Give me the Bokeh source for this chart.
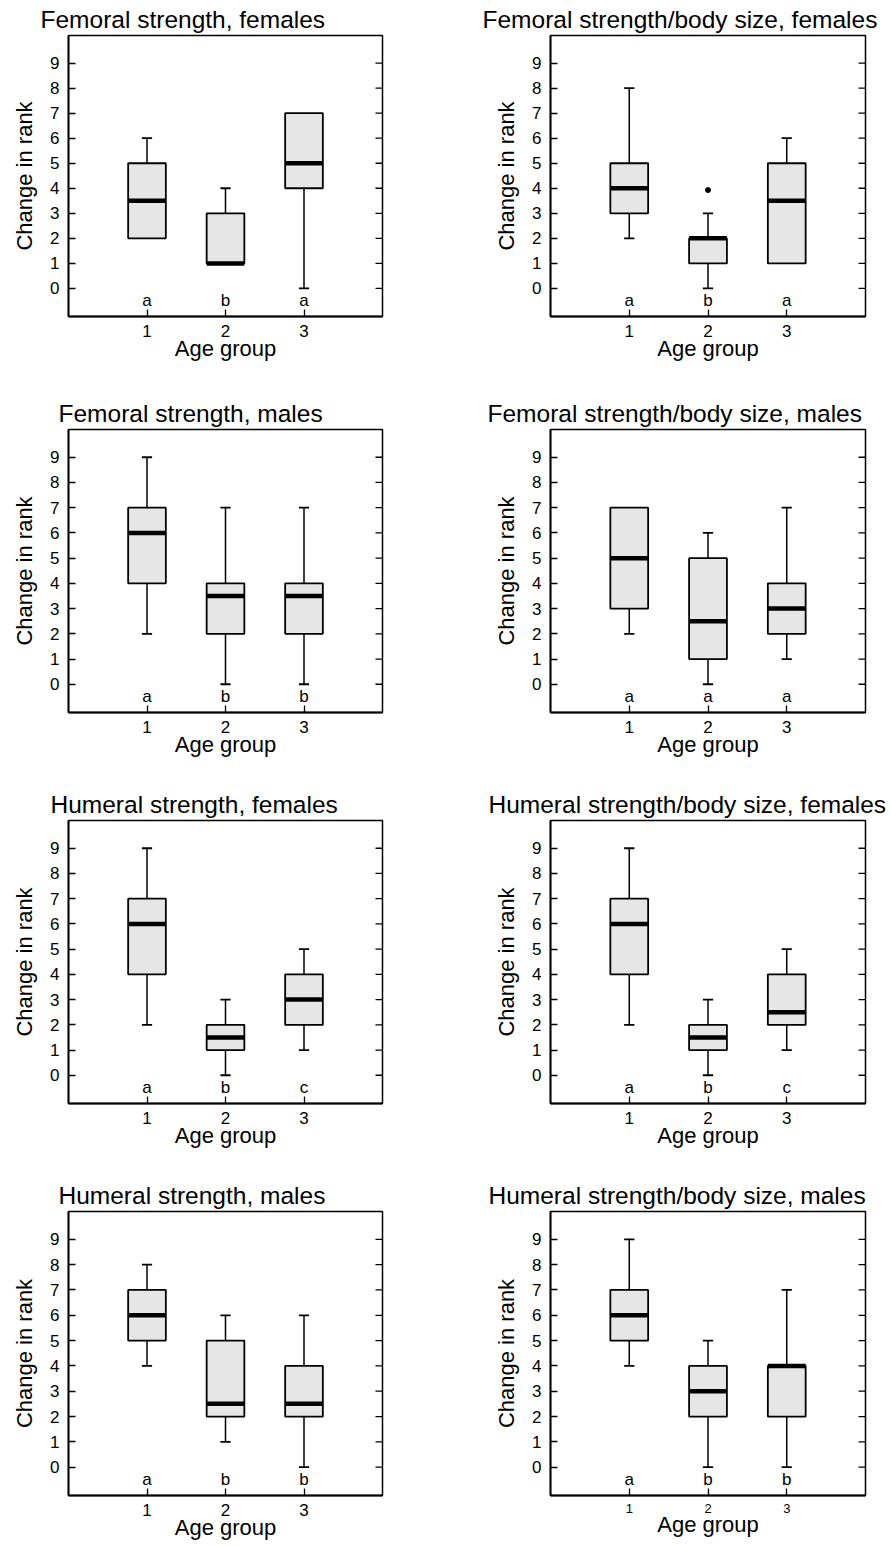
import math
from bokeh.plotting import figure
from bokeh.models import FixedTicker, Range1d
from bokeh.layouts import column, row
from bokeh.embed import file_html
from bokeh.resources import INLINE
from bokeh.core.properties import value

# ---------------- data ----------------
titles = [
    "Femoral strength, females", "Femoral strength/body size, females",
    "Femoral strength, males", "Femoral strength/body size, males",
    "Humeral strength, females", "Humeral strength/body size, females",
    "Humeral strength, males", "Humeral strength/body size, males",
]
age_groups = [1, 2, 3]
whisker_low = [[2, 1, 0], [2, 0, 1], [2, 0, 0], [2, 0, 1],
               [2, 0, 1], [2, 0, 1], [4, 1, 0], [4, 0, 0]]
quartile1 = [[2, 1, 4], [3, 1, 1], [4, 2, 2], [3, 1, 2],
             [4, 1, 2], [4, 1, 2], [5, 2, 2], [5, 2, 2]]
median = [[3.5, 1, 5], [4, 2, 3.5], [6, 3.5, 3.5], [5, 2.5, 3],
          [6, 1.5, 3], [6, 1.5, 2.5], [6, 2.5, 2.5], [6, 3, 4]]
quartile3 = [[5, 3, 7], [5, 2, 5], [7, 4, 4], [7, 5, 4],
             [7, 2, 4], [7, 2, 4], [7, 5, 4], [7, 4, 4]]
whisker_high = [[6, 4, 7], [8, 3, 6], [9, 7, 7], [7, 6, 7],
                [9, 3, 5], [9, 3, 5], [8, 6, 6], [9, 5, 7]]
letters = [["a", "b", "a"], ["a", "b", "a"], ["a", "b", "b"], ["a", "a", "a"],
           ["a", "b", "c"], ["a", "b", "c"], ["a", "b", "b"], ["a", "b", "b"]]
outlier_panel = [1]
outlier_x = [2]
outlier_y = [3.93]
y_ticks = [0, 1, 2, 3, 4, 5, 6, 7, 8, 9]
x_label = "Age group"
y_label = "Change in rank"

# ---------------- style ----------------
FONT = "Liberation Sans"
BOX_FILL = "#e6e6e6"
BOX_W = 0.48
CAP_HW = 0.065
X_END = 4
LETTER_Y = -0.5
title_offsets = [-28, -68, -10, -63, -18, -62, -10, -62]
row_heights = [394, 391, 391, 370]
frame_heights = [282, 284, 284, 285]
BORDER_TOP = 34
xtick_sizes = ["17px"] * 7 + ["13px"]


def make_panel(i, width, height, bl, br, bt, bb):
    p = figure(width=width, height=height,
               x_range=Range1d(0, X_END), y_range=Range1d(-1.12, 10.1),
               output_backend="svg", toolbar_location=None,
               min_border_left=bl, min_border_right=br,
               min_border_top=bt, min_border_bottom=bb,
               title=titles[i])
    p.title.align = "left"
    p.title.offset = title_offsets[i]
    p.title.text_font = FONT
    p.title.text_font_size = "24.5px"
    p.title.text_font_style = "normal"
    p.title.text_color = "black"
    try:
        p.title.standoff = 6
    except Exception:
        pass
    p.grid.visible = False
    p.outline_line_color = "black"
    p.outline_line_width = 1.5
    p.background_fill_color = "white"
    p.border_fill_color = "white"

    ya = p.yaxis[0]
    ya.ticker = FixedTicker(ticks=y_ticks)
    ya.major_tick_in = 7
    ya.major_tick_out = 0
    ya.minor_tick_line_color = None
    ya.major_tick_line_width = 1.3
    ya.axis_line_width = 1.8
    ya.major_label_standoff = 9
    ya.major_label_text_font = FONT
    ya.major_label_text_font_size = "17px"
    ya.major_label_text_color = "black"
    ya.axis_label = y_label
    ya.axis_label_text_font = FONT
    ya.axis_label_text_font_size = "22px"
    ya.axis_label_text_font_style = "normal"
    ya.axis_label_text_color = "black"
    ya.axis_label_standoff = 10

    xa = p.xaxis[0]
    xa.ticker = FixedTicker(ticks=age_groups)
    xa.major_tick_in = 7
    xa.major_tick_out = 0
    xa.minor_tick_line_color = None
    xa.major_tick_line_width = 1.3
    xa.axis_line_width = 1.8
    xa.major_label_standoff = 8
    xa.major_label_text_font = FONT
    xa.major_label_text_font_size = xtick_sizes[i]
    xa.major_label_text_color = "black"
    xa.axis_label = x_label
    xa.axis_label_text_font = FONT
    xa.axis_label_text_font_size = "22px"
    xa.axis_label_text_font_style = "normal"
    xa.axis_label_text_color = "black"
    xa.axis_label_standoff = -4

    # inner ticks on the right frame edge
    p.ray(x=[X_END] * len(y_ticks), y=y_ticks, length=7, length_units="screen",
          angle=math.pi, line_color="black", line_width=1.3)

    lo, q1, md, q3, hi = (whisker_low[i], quartile1[i], median[i],
                          quartile3[i], whisker_high[i])
    wx0, wy0, wy1 = [], [], []
    cx0, cx1, cy = [], [], []
    for x, l, a, b, h in zip(age_groups, lo, q1, q3, hi):
        if h > b:
            wx0.append(x); wy0.append(b); wy1.append(h)
            cx0.append(x - CAP_HW); cx1.append(x + CAP_HW); cy.append(h)
        if l < a:
            wx0.append(x); wy0.append(a); wy1.append(l)
            cx0.append(x - CAP_HW); cx1.append(x + CAP_HW); cy.append(l)
    p.segment(x0=wx0, y0=wy0, x1=wx0, y1=wy1, line_color="black", line_width=1.5)
    p.segment(x0=cx0, y0=cy, x1=cx1, y1=cy, line_color="black", line_width=1.8)
    p.vbar(x=age_groups, bottom=q1, top=q3, width=BOX_W,
           fill_color=BOX_FILL, line_color="black", line_width=1.8)
    p.segment(x0=[x - BOX_W / 2 for x in age_groups], y0=md,
              x1=[x + BOX_W / 2 for x in age_groups], y1=md,
              line_color="black", line_width=4.5)
    ox = [x for k, x in zip(outlier_panel, outlier_x) if k == i]
    oy = [y for k, y in zip(outlier_panel, outlier_y) if k == i]
    if ox:
        p.scatter(x=ox, y=oy, size=5, color="black")
    p.text(x=age_groups, y=[LETTER_Y] * 3, text=letters[i], text_align="center",
           text_baseline="alphabetic", text_font=value(FONT),
           text_font_size="17px", text_color="black")
    return p


rows = []
for r in range(4):
    h = row_heights[r]
    bb = h - BORDER_TOP - frame_heights[r]
    left = make_panel(2 * r, 480, h, 68, 98, BORDER_TOP, bb)
    right = make_panel(2 * r + 1, 411, h, 70, 26, BORDER_TOP, bb)
    rows.append(row(left, right))

layout = column(*rows)
open("out.html", "w").write(file_html(layout, INLINE))
